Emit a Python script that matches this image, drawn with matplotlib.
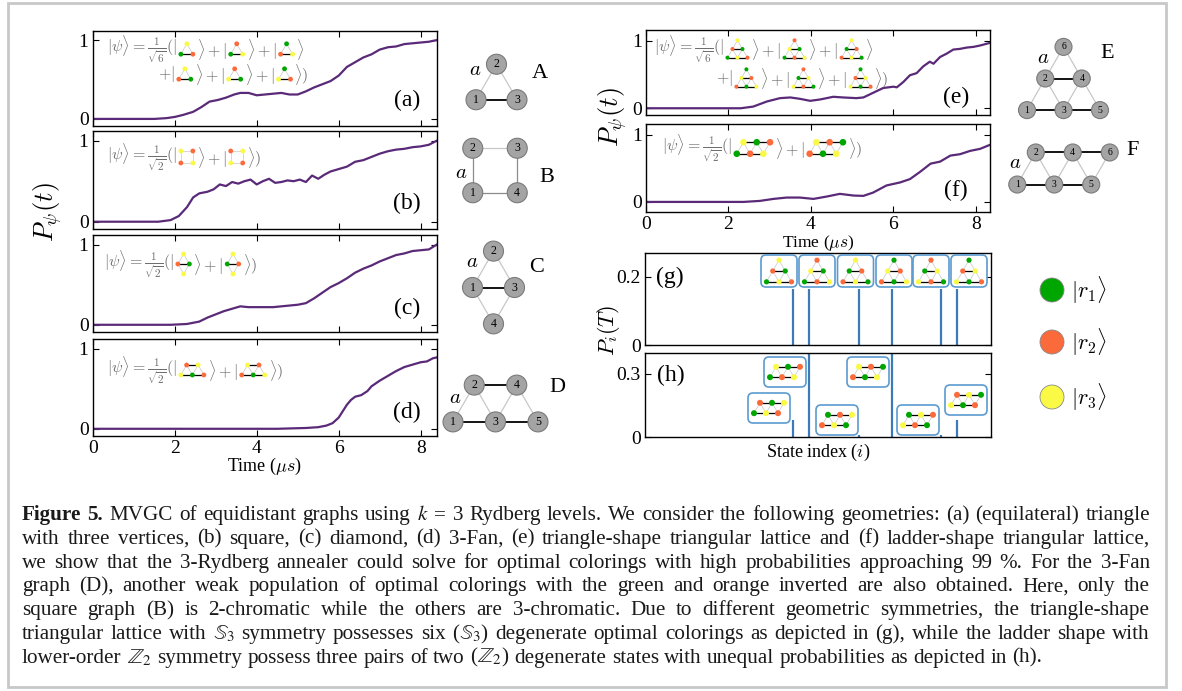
import matplotlib
matplotlib.use("Agg")
import matplotlib.pyplot as plt
from matplotlib.patches import Circle, FancyBboxPatch, Rectangle

W, H = 1182, 691
plt.rcParams["font.family"] = ["Liberation Serif", "DejaVu Serif"]
plt.rcParams["mathtext.fontset"] = "cm"
plt.rcParams["xtick.direction"] = "in"
plt.rcParams["ytick.direction"] = "in"

# ---------------- time traces P_psi(t) ----------------
t_a = [0, 1.5, 1.8, 2.0, 2.2, 2.45, 2.65, 2.85, 3.05, 3.25, 3.45, 3.6, 3.8, 4.0, 4.2, 4.4,
       4.6, 4.8, 5.0, 5.2, 5.4, 5.6, 5.8, 6.0, 6.2, 6.4, 6.6, 6.8, 7.0, 7.2, 7.4, 7.6, 7.8,
       8.0, 8.2, 8.39]
p_a = [0, 0, 0.01, 0.025, 0.05, 0.09, 0.15, 0.22, 0.24, 0.27, 0.31, 0.33, 0.33, 0.30, 0.31,
       0.32, 0.33, 0.31, 0.31, 0.35, 0.40, 0.44, 0.48, 0.55, 0.66, 0.72, 0.78, 0.82, 0.88,
       0.91, 0.92, 0.95, 0.96, 0.97, 0.98, 1.0]

t_b = [0, 1.6, 1.9, 2.1, 2.3, 2.45, 2.6, 2.8, 2.95, 3.1, 3.25, 3.4, 3.55, 3.7, 3.85, 4.0,
       4.15, 4.3, 4.45, 4.6, 4.75, 4.9, 5.05, 5.2, 5.35, 5.5, 5.65, 5.8, 6.0, 6.2, 6.4, 6.6,
       6.8, 7.0, 7.2, 7.4, 7.6, 7.8, 8.0, 8.2, 8.39]
p_b = [0, 0, 0.02, 0.07, 0.18, 0.30, 0.35, 0.37, 0.40, 0.46, 0.44, 0.49, 0.47, 0.50, 0.52,
       0.46, 0.50, 0.53, 0.48, 0.49, 0.51, 0.50, 0.52, 0.49, 0.57, 0.53, 0.58, 0.62, 0.65,
       0.68, 0.74, 0.76, 0.80, 0.84, 0.87, 0.89, 0.90, 0.92, 0.93, 0.95, 1.0]

t_c = [0, 1.9, 2.3, 2.6, 2.8, 3.0, 3.2, 3.4, 3.6, 3.8, 4.0, 4.2, 4.4, 4.6, 4.8, 5.0, 5.2,
       5.4, 5.6, 5.8, 6.0, 6.2, 6.4, 6.6, 6.8, 7.0, 7.2, 7.4, 7.6, 7.8, 8.0, 8.2, 8.39]
p_c = [0, 0, 0.01, 0.04, 0.09, 0.13, 0.17, 0.20, 0.23, 0.22, 0.22, 0.22, 0.22, 0.23, 0.24,
       0.25, 0.27, 0.33, 0.40, 0.47, 0.52, 0.58, 0.65, 0.70, 0.74, 0.79, 0.83, 0.87, 0.89,
       0.92, 0.93, 0.94, 1.0]

t_d = [0, 4.5, 5.2, 5.5, 5.7, 5.85, 6.0, 6.1, 6.2, 6.3, 6.4, 6.55, 6.7, 6.8, 7.0, 7.2, 7.4,
       7.6, 7.8, 8.0, 8.15, 8.3, 8.39]
p_d = [0, 0, 0.01, 0.02, 0.04, 0.07, 0.14, 0.22, 0.30, 0.36, 0.40, 0.42, 0.47, 0.53, 0.60,
       0.66, 0.72, 0.77, 0.80, 0.83, 0.84, 0.88, 0.89]

t_e = [0, 2.3, 2.6, 2.93, 3.25, 3.5, 3.73, 3.98, 4.22, 4.54, 4.78, 5.1, 5.27, 5.51, 5.75,
       6.0, 6.08, 6.24, 6.4, 6.56, 6.72, 6.88, 6.97, 7.13, 7.29, 7.45, 7.61, 7.78, 7.94,
       8.1, 8.34]
p_e = [0, 0, 0.025, 0.10, 0.15, 0.16, 0.14, 0.11, 0.13, 0.17, 0.16, 0.15, 0.16, 0.23, 0.30,
       0.32, 0.31, 0.39, 0.49, 0.52, 0.62, 0.69, 0.66, 0.76, 0.81, 0.87, 0.88, 0.90, 0.91,
       0.93, 0.97]

t_f = [0, 2.36, 2.76, 3.09, 3.41, 3.73, 4.06, 4.38, 4.7, 5.03, 5.27, 5.51, 5.83, 6.16, 6.4,
       6.65, 6.9, 7.13, 7.38, 7.61, 7.86, 8.1, 8.34]
p_f = [0, 0, 0.015, 0.045, 0.065, 0.065, 0.045, 0.08, 0.12, 0.095, 0.09, 0.14, 0.245, 0.29,
       0.34, 0.45, 0.57, 0.60, 0.69, 0.71, 0.76, 0.79, 0.85]

# ---------------- final-state populations P_i(T) ----------------
state_idx = [1752, 1943, 2533, 2924, 3503, 3696]
pop_g = [0.165, 0.165, 0.165, 0.165, 0.165, 0.165]
pop_h = [0.08, 0.405, 0.01, 0.405, 0.01, 0.08]

# colourings (node 1..n) with G=|r1>, O=|r2>, Y=|r3>
kets_a = ["GYO", "GOY", "OGY", "OYG", "YOG", "YGO"]
kets_b = ["OYOY", "YOYO"]
kets_c = ["OYGY", "GYOY"]
kets_d = ["YOGYO", "OYGOY"]
kets_e = ["GOYGOY", "GYOGYO", "OGYOGY", "OYGOYG", "YGOYGO", "YOGYOG"]
kets_f = ["GYOGYO", "OYGOYG"]
states_g = ["GOYGOY", "GYOGYO", "OGYOGY", "OYGOYG", "YGOYGO", "YOGYOG"]
states_h = ["GOYGOY", "GYOGYO", "OGYOGY", "OYGOYG", "YGOYGO", "YOGYOG"]

level_labels = [r"$|r_1\rangle$", r"$|r_2\rangle$", r"$|r_3\rangle$"]

caption_lines = [
    r"Figure 5. MVGC of equidistant graphs using $k$ = 3 Rydberg levels. We consider the following geometries: (a) (equilateral) triangle",
    r"with three vertices, (b) square, (c) diamond, (d) 3-Fan, (e) triangle-shape triangular lattice and (f) ladder-shape triangular lattice,",
    r"we show that the 3-Rydberg annealer could solve for optimal colorings with high probabilities approaching 99 %. For the 3-Fan",
    r"graph (D), another weak population of optimal colorings with the green and orange inverted are also obtained. Here, only the",
    r"square graph (B) is 2-chromatic while the others are 3-chromatic. Due to different geometric symmetries, the triangle-shape",
    r"triangular lattice with $\mathbb{S}_3$ symmetry possesses six ($\mathbb{S}_3$) degenerate optimal colorings as depicted in (g), while the ladder shape with",
    r"lower-order $\mathbb{Z}_2$ symmetry possess three pairs of two ($\mathbb{Z}_2$) degenerate states with unequal probabilities as depicted in (h).",
]

# ---------------- styling ----------------
LINE_C = "#5a2a78"
BAR_C = "#3d7ab8"
BOX_C = "#5b9bd0"
KET_C = "#6e6e6e"
COL = {"G": "#00a600", "O": "#fa6a3a", "Y": "#fafa46"}

h3 = 3 ** 0.5 / 2
GEOMS = {
    "A": ({1: (0, 0), 2: (0.5, h3), 3: (1, 0)}, [(1, 3)], [(1, 2), (2, 3)], []),
    "B": ({1: (0, 0), 2: (0, 1), 3: (1, 1), 4: (1, 0)}, [], [(2, 3)], [(1, 2), (3, 4), (1, 4)]),
    "C": ({1: (0, 0), 2: (0.5, h3), 3: (1, 0), 4: (0.5, -h3)}, [(1, 3)],
          [(1, 2), (2, 3), (1, 4), (3, 4)], []),
    "D": ({1: (0, 0), 2: (0.5, h3), 3: (1, 0), 4: (1.5, h3), 5: (2, 0)},
          [(1, 3), (3, 5), (2, 4)], [(1, 2), (2, 3), (3, 4), (4, 5)], []),
    "E": ({1: (0, 0), 2: (0.5, h3), 3: (1, 0), 4: (1.5, h3), 5: (2, 0), 6: (1, 2 * h3)},
          [(1, 3), (3, 5), (2, 4)], [(1, 2), (2, 3), (3, 4), (4, 5), (2, 6), (4, 6)], []),
    "F": ({1: (0, 0), 2: (0.5, h3), 3: (1, 0), 4: (1.5, h3), 5: (2, 0), 6: (2.5, h3)},
          [(1, 3), (3, 5), (2, 4), (4, 6)], [(1, 2), (2, 3), (3, 4), (4, 5), (5, 6)], []),
}

fig = plt.figure(figsize=(W / 100, H / 100), dpi=100)
renderer = fig.canvas.get_renderer()


def box(l, t, r, b):
    return [l / W, 1 - b / H, (r - l) / W, (b - t) / H]


def style_axes(ax, xlim, ylim, yticks, yticklabels, xlabels=False):
    ax.set_xlim(*xlim)
    ax.set_ylim(*ylim)
    ax.set_yticks(yticks)
    ax.set_yticklabels(yticklabels)
    ax.tick_params(labelsize=14, length=4, width=0.8, pad=3, top=True, right=True)
    if not xlabels:
        ax.tick_params(labelbottom=False)
    for s in ax.spines.values():
        s.set_linewidth(1.0)


# time-trace panels
left_boxes = [(30.7, 126), (131, 229), (235, 332), (339, 436)]
left_data = [(t_a, p_a), (t_b, p_b), (t_c, p_c), (t_d, p_d)]
for k, ((tp, bt), (tt, pp)) in enumerate(zip(left_boxes, left_data)):
    ax = fig.add_axes(box(92.7, tp, 436.7, bt))
    ax.plot(tt, pp, color=LINE_C, lw=1.6)
    style_axes(ax, (0, 8.39), (-0.09, 1.12), [0, 1], ["0", "1"], xlabels=(k == 3))
    ax.set_xticks([0, 2, 4, 6, 8])

right_boxes = [(30, 115), (124, 212)]
right_data = [(t_e, p_e), (t_f, p_f)]
for k, ((tp, bt), (tt, pp)) in enumerate(zip(right_boxes, right_data)):
    ax = fig.add_axes(box(646, tp, 990, bt))
    ax.plot(tt, pp, color=LINE_C, lw=1.6)
    style_axes(ax, (0, 8.34), (-0.1 if k == 0 else -0.15, 1.16), [0, 1], ["0", "1"],
               xlabels=(k == 1))
    ax.set_xticks([0, 2, 4, 6, 8])

# population panels
axg = fig.add_axes(box(645, 252.7, 991, 345))
axg.vlines(state_idx, 0, pop_g, color=BAR_C, lw=1.6)
style_axes(axg, (0, 4096), (0, 0.27), [0, 0.2], ["0", "0.2"])
axg.set_xticks([])

axh = fig.add_axes(box(645, 353, 991, 437))
axh.vlines(state_idx, 0, pop_h, color=BAR_C, lw=1.6)
style_axes(axh, (0, 4096), (0, 0.40), [0, 0.3], ["0", "0.3"])
axh.set_xticks([])

# overlay in pixel units for drawings and text
ov = fig.add_axes([0, 0, 1, 1], zorder=5)
ov.set_xlim(0, W)
ov.set_ylim(H, 0)
ov.axis("off")
ov.patch.set_alpha(0)


def geom_extent(name):
    pos = GEOMS[name][0]
    xs = [p[0] for p in pos.values()]
    ys = [p[1] for p in pos.values()]
    return min(xs), max(xs), min(ys), max(ys)


def draw_graph(name, cx, cy, s, r, colors=None, labels=False, lfs=8, z=6,
               node_fc="#a4a4a4", light="#c8c8c8", mid="#8c8c8c", blw=1.3, glw=0.9):
    pos, black, gray, midl = GEOMS[name]
    x0, x1, y0, y1 = geom_extent(name)
    mx, my = (x0 + x1) / 2, (y0 + y1) / 2
    P = {k: (cx + s * (x - mx), cy - s * (y - my)) for k, (x, y) in pos.items()}
    for (i, j) in gray:
        ov.plot([P[i][0], P[j][0]], [P[i][1], P[j][1]], color=light, lw=glw, zorder=z)
    for (i, j) in midl:
        ov.plot([P[i][0], P[j][0]], [P[i][1], P[j][1]],
                color=mid if colors is None else light, lw=glw, zorder=z)
    for (i, j) in black:
        ov.plot([P[i][0], P[j][0]], [P[i][1], P[j][1]], color="black", lw=blw, zorder=z)
    for k in pos:
        if colors is None:
            fc, ec, lw = node_fc, "#7a7a7a", 0.8
        else:
            fc, ec, lw = COL[colors[k - 1]], "none", 0
        ov.add_patch(Circle(P[k], r, fc=fc, ec=ec, lw=lw, zorder=z + 1))
        if labels:
            ov.text(P[k][0], P[k][1], str(k), ha="center", va="center", fontsize=lfs,
                    zorder=z + 2)


def icon_width(name, s, r):
    x0, x1, _, _ = geom_extent(name)
    return s * (x1 - x0) + 2 * r


def ket_row(x, y, pieces, s, r, fs=11.5, gap=1.5):
    cx = x
    for p in pieces:
        if isinstance(p, str):
            t = ov.text(cx, y, p, fontsize=fs, color=KET_C, ha="left", va="center", zorder=8)
            cx += t.get_window_extent(renderer).width
        else:
            name, cols = p
            w = icon_width(name, s, r)
            draw_graph(name, cx + gap + w / 2, y, s, r, colors=cols, blw=0.9, glw=0.5)
            cx += w + 2 * gap


def ket_pieces(prefix, name, states, suffix):
    out = [prefix]
    for k, st in enumerate(states):
        out.append((name, st))
        out.append(r"$\rangle + |$" if k < len(states) - 1 else suffix)
    return out


# ket expressions
ket_row(107, 49, ket_pieces(r"$|\psi\rangle = \frac{1}{\sqrt{6}}(|$", "A", kets_a[:3], r"$\rangle$"),
        12, 2.4)
ket_row(158, 74, ket_pieces(r"$+|$", "A", kets_a[3:], r"$\rangle)$"), 12, 2.4)
ket_row(107, 157, ket_pieces(r"$|\psi\rangle = \frac{1}{\sqrt{2}}(|$", "B", kets_b, r"$\rangle)$"),
        12, 2.4)
ket_row(104, 264, ket_pieces(r"$|\psi\rangle = \frac{1}{\sqrt{2}}(|$", "C", kets_c, r"$\rangle)$"),
        11.5, 2.4)
ket_row(107, 370, ket_pieces(r"$|\psi\rangle = \frac{1}{\sqrt{2}}(|$", "D", kets_d, r"$\rangle)$"),
        11.5, 2.4)
ket_row(654, 49, ket_pieces(r"$|\psi\rangle = \frac{1}{\sqrt{6}}(|$", "E", kets_e[:3], r"$\rangle$"),
        10, 2.0)
ket_row(716, 78, ket_pieces(r"$+|$", "E", kets_e[3:], r"$\rangle)$"), 10, 2.0)
ket_row(662, 148, ket_pieces(r"$|\psi\rangle = \frac{1}{\sqrt{2}}(|$", "F", kets_f, r"$\rangle)$"),
        13.3, 3.3)

# graph geometries A-F
big = [("A", 496.5, 82, 41, 10, (475, 70), (540, 73)),
       ("B", 495, 170.5, 44.5, 10, (461, 173), (547, 177)),
       ("C", 493.5, 287.5, 42, 10, (472, 262), (537, 267)),
       ("D", 495.5, 403.5, 42.5, 10, (455, 398), (557, 387)),
       ("E", 1063.5, 78.5, 36.5, 8.5, (1043, 58), (1107, 53)),
       ("F", 1063.5, 168.5, 37, 8.5, (1015, 163), (1133, 150))]
for name, cx, cy, s, r, apos, lpos in big:
    draw_graph(name, cx, cy, s, r, labels=True, lfs=8.5 if r >= 10 else 7)
    ov.text(*apos, r"$a$", fontsize=15, ha="center", va="center")
    ov.text(*lpos, name, fontsize=16, ha="center", va="center")

# state icons above the population bars
g_centers = [779, 817, 855.5, 894, 931, 969]
for cx, st in zip(g_centers, states_g):
    ov.add_patch(FancyBboxPatch((cx - 18, 255), 36, 32,
                                boxstyle="round,pad=0,rounding_size=5",
                                fc="white", ec=BOX_C, lw=1.2, zorder=6))
    draw_graph("E", cx, 271, 12.5, 2.6, colors=st, z=7, blw=0.9, glw=0.5)

h_centers = [(769, 408), (785, 372), (837, 420), (868, 372), (918, 420), (966, 400)]
for (cx, cy), st in zip(h_centers, states_h):
    ov.add_patch(FancyBboxPatch((cx - 21, cy - 15), 42, 30,
                                boxstyle="round,pad=0,rounding_size=5",
                                fc="white", ec=BOX_C, lw=1.2, zorder=6))
    draw_graph("F", cx, cy, 12, 3.0, colors=st, z=7, blw=0.9, glw=0.5)

# level legend
for k, (c, lab) in enumerate(zip("GOY", level_labels)):
    y = [290, 342, 397][k]
    ov.add_patch(Circle((1052, y), 12, fc=COL[c], ec="#888888", lw=0.6, zorder=6))
    ov.text(1071, y, lab, fontsize=16, ha="left", va="center")

# panel tags
for tag, (x, y) in zip("abcdefgh", [(407, 100), (407, 203), (407, 308), (407, 412),
                                    (956, 97), (956, 190), (670, 277), (671, 375)]):
    ov.text(x, y, f"({tag})", fontsize=17, ha="center", va="center")

# axis titles
ov.text(48, 212, r"$P_\psi(t)$", fontsize=19, rotation=90, ha="center", va="center")
ov.text(613, 117, r"$P_\psi(t)$", fontsize=19, rotation=90, ha="center", va="center")
ov.text(609, 330, r"$P_i(T)$", fontsize=16, rotation=90, ha="center", va="center")
ov.text(265, 466, r"Time ($\mu s$)", fontsize=13, ha="center", va="center")
ov.text(818, 243, r"Time ($\mu s$)", fontsize=12.5, ha="center", va="center")
ov.text(818, 452, r"State index ($i$)", fontsize=13, ha="center", va="center")


# caption, justified line by line
CAP_X0, CAP_X1 = 22, 1150


def text_width(s, fs, weight="normal"):
    t = ov.text(0, 0, s, fontsize=fs, fontweight=weight, math_fontfamily="stix")
    w = t.get_window_extent(renderer).width
    t.remove()
    return w


def pick_caption_size(lines, start=15.5):
    fs = start
    while fs > 9:
        if all(text_width(l, fs) <= CAP_X1 - CAP_X0 - 4 for l in lines[:-1]):
            return fs
        fs -= 0.25
    return fs


def caption_line(y, text, fs, bold_n=0, justify=True):
    words = text.split(" ")
    arts, ws = [], []
    for k, w in enumerate(words):
        t = ov.text(0, y, w, fontsize=fs, fontweight="bold" if k < bold_n else "normal",
                    ha="left", va="baseline", math_fontfamily="stix", color="#1a1a1a")
        arts.append(t)
        ws.append(t.get_window_extent(renderer).width)
    space = text_width("a a", fs) - 2 * text_width("a", fs)
    gap = (CAP_X1 - CAP_X0 - sum(ws)) / (len(words) - 1) if justify else space
    x = CAP_X0
    for t, w in zip(arts, ws):
        t.set_x(x)
        x += w + gap


cap_fs = pick_caption_size(caption_lines)
for k, line in enumerate(caption_lines):
    caption_line(520 + 23.8 * k, line, cap_fs, bold_n=2 if k == 0 else 0,
                 justify=(k < len(caption_lines) - 1))

# outer frame
ov.add_patch(Rectangle((8, 3), 1158, 684, fc="none", ec="#c8c8c8", lw=2, zorder=1))

fig.savefig("out.png", dpi=100)
